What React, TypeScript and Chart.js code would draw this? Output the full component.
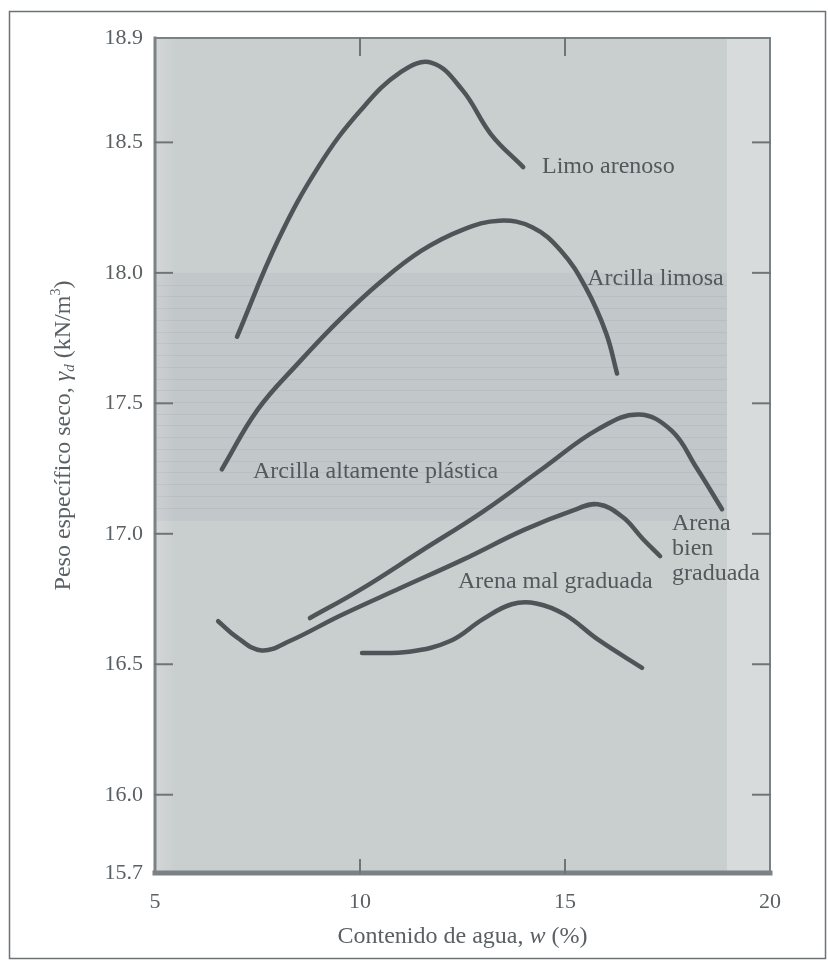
import React, { useEffect, useRef } from "react";
import { Chart, registerables } from "chart.js";

Chart.register(...registerables);

// ---- axis ticks ----
const xTicks = [5, 10, 15, 20];
const yTicks = [15.7, 16.0, 16.5, 17.0, 17.5, 18.0, 18.5, 18.9];
const innerXTicks = [10, 15];
const innerYTicks = [16.0, 16.5, 17.0, 17.5, 18.0, 18.5];

// ---- series (water content %, dry unit weight kN/m3) ----
const limoX = [7.0, 8.0, 9.0, 10.0, 11.0, 11.75, 12.5, 13.2, 13.98];
const limoY = [17.755, 18.125, 18.41, 18.62, 18.77, 18.805, 18.7, 18.53, 18.405];

const arcLimX = [6.63, 7.5, 8.5, 9.5, 10.5, 11.5, 12.5, 13.4, 14.2, 14.9, 15.5, 16.0, 16.27];
const arcLimY = [17.247, 17.475, 17.655, 17.82, 17.965, 18.085, 18.165, 18.2, 18.175, 18.085, 17.945, 17.77, 17.614];

const arcPlastX = [8.78, 10.0, 11.5, 13.0, 14.5, 15.8, 16.8, 17.6, 18.2, 18.83];
const arcPlastY = [16.677, 16.785, 16.935, 17.085, 17.255, 17.4, 17.457, 17.395, 17.255, 17.094];

const arenaBienX = [6.54, 7.0, 7.6, 8.3, 9.5, 11.0, 12.5, 14.0, 15.2, 15.8, 16.4, 16.9, 17.32];
const arenaBienY = [16.665, 16.603, 16.553, 16.59, 16.685, 16.793, 16.9, 17.015, 17.09, 17.113, 17.065, 16.98, 16.914];

const arenaMalX = [10.05, 11.2, 12.2, 13.0, 13.7, 14.3, 15.0, 15.8, 16.88];
const arenaMalY = [16.543, 16.548, 16.589, 16.673, 16.73, 16.733, 16.69, 16.595, 16.486];

const seriesNames = [
  "Limo arenoso",
  "Arcilla limosa",
  "Arcilla altamente plástica",
  "Arena bien graduada",
  "Arena mal graduada",
];

const FONT = "'Liberation Serif', 'DejaVu Serif', serif";
const TEXT = "#5a6063";
const CURVE = "#4e5457";

// annotation anchors (data units) for curve labels
const curveLabels: { lines: string[]; x: number; y: number }[] = [
  { lines: ["Limo arenoso"], x: 14.44, y: 18.405 },
  { lines: ["Arcilla limosa"], x: 15.54, y: 17.977 },
  { lines: ["Arcilla altamente plástica"], x: 7.39, y: 17.239 },
  { lines: ["Arena mal graduada"], x: 12.39, y: 16.818 },
  { lines: ["Arena", "bien", "graduada"], x: 17.61, y: 17.04 },
];

const toPts = (xs: number[], ys: number[]) => xs.map((x, i) => ({ x, y: ys[i] }));

const decor = {
  id: "decor",
  beforeDraw(chart: any) {
    const { ctx, chartArea: a, scales } = chart;
    const xs = scales.x;
    const ys = scales.y;
    ctx.save();
    ctx.fillStyle = "#ffffff";
    ctx.fillRect(0, 0, chart.width, chart.height);
    // outer figure frame
    ctx.strokeStyle = "#6d7275";
    ctx.lineWidth = 1.5;
    ctx.strokeRect(9.5, 11.5, chart.width - 12, chart.height - 14);
    // plot background
    ctx.fillStyle = "#c9cecf";
    ctx.fillRect(a.left, a.top, a.width, a.height);
    const leftStrip = xs.getPixelForValue(5.5);
    const g = ctx.createLinearGradient(a.left, 0, leftStrip, 0);
    g.addColorStop(0, "rgba(255,255,255,0.18)");
    g.addColorStop(1, "rgba(255,255,255,0)");
    ctx.fillStyle = g;
    ctx.fillRect(a.left, a.top, leftStrip - a.left, a.height);
    const rightStrip = xs.getPixelForValue(18.95);
    ctx.fillStyle = "#d7dbdc";
    ctx.fillRect(rightStrip, a.top, a.right - rightStrip, a.height);
    // darker scanned band
    const b1 = ys.getPixelForValue(18.0);
    const b2 = ys.getPixelForValue(17.05);
    ctx.fillStyle = "rgba(110,120,125,0.07)";
    ctx.fillRect(a.left, b1, rightStrip - a.left, b2 - b1);
    ctx.strokeStyle = "rgba(110,120,125,0.10)";
    ctx.lineWidth = 1;
    for (let v = 17.1; v < 18.0; v += 0.045) {
      const py = Math.round(ys.getPixelForValue(v)) + 0.5;
      ctx.beginPath();
      ctx.moveTo(a.left, py);
      ctx.lineTo(rightStrip, py);
      ctx.stroke();
    }
    ctx.restore();
  },
  afterDatasetsDraw(chart: any) {
    const { ctx, scales } = chart;
    const xs = scales.x;
    const ys = scales.y;
    ctx.save();
    ctx.fillStyle = "#52585b";
    ctx.font = `24px ${FONT}`;
    ctx.textAlign = "left";
    ctx.textBaseline = "middle";
    curveLabels.forEach((l) => {
      const px = xs.getPixelForValue(l.x);
      const py = ys.getPixelForValue(l.y);
      l.lines.forEach((t, i) => ctx.fillText(t, px, py + i * 25));
    });
    ctx.restore();
  },
  afterDraw(chart: any) {
    const { ctx, chartArea: a, scales } = chart;
    const xs = scales.x;
    const ys = scales.y;
    ctx.save();
    // plot frame
    ctx.strokeStyle = "#7b8184";
    ctx.lineCap = "square";
    const line = (x1: number, y1: number, x2: number, y2: number, w: number) => {
      ctx.lineWidth = w;
      ctx.beginPath();
      ctx.moveTo(x1, y1);
      ctx.lineTo(x2, y2);
      ctx.stroke();
    };
    line(a.left, a.top, a.right, a.top, 2);
    line(a.right, a.top, a.right, a.bottom, 2);
    line(a.left, a.top, a.left, a.bottom, 3);
    line(a.left, a.bottom, a.right, a.bottom, 5);
    // inward ticks
    ctx.strokeStyle = "#6e7477";
    innerYTicks.forEach((v) => {
      const py = ys.getPixelForValue(v);
      line(a.left, py, a.left + 17, py, 2);
      line(a.right - 17, py, a.right, py, 2);
    });
    innerXTicks.forEach((v) => {
      const px = xs.getPixelForValue(v);
      line(px, a.bottom, px, a.bottom - 13, 2);
      line(px, a.top, px, a.top + 17, 2);
    });

    // x title
    ctx.fillStyle = TEXT;
    ctx.textBaseline = "middle";
    const xParts = [
      { t: "Contenido de agua, ", f: `24px ${FONT}` },
      { t: "w", f: `italic 24px ${FONT}` },
      { t: " (%)", f: `24px ${FONT}` },
    ];
    let total = 0;
    xParts.forEach((p) => {
      ctx.font = p.f;
      total += ctx.measureText(p.t).width;
    });
    let cx = (a.left + a.right) / 2 - total / 2;
    const ty = 937;
    ctx.textAlign = "left";
    xParts.forEach((p) => {
      ctx.font = p.f;
      ctx.fillText(p.t, cx, ty);
      cx += ctx.measureText(p.t).width;
    });

    // y title (rotated)
    const yParts = [
      { t: "Peso específico seco, ", f: `24px ${FONT}`, dy: 0 },
      { t: "γ", f: `italic 24px ${FONT}`, dy: 0 },
      { t: "d", f: `italic 15px ${FONT}`, dy: 6 },
      { t: " (kN/m", f: `24px ${FONT}`, dy: 0 },
      { t: "3", f: `14px ${FONT}`, dy: -8 },
      { t: ")", f: `24px ${FONT}`, dy: 0 },
    ];
    total = 0;
    yParts.forEach((p) => {
      ctx.font = p.f;
      total += ctx.measureText(p.t).width;
    });
    ctx.translate(64, (a.top + a.bottom) / 2 - 20);
    ctx.rotate(-Math.PI / 2);
    let lx = -total / 2;
    yParts.forEach((p) => {
      ctx.font = p.f;
      ctx.fillText(p.t, lx, p.dy);
      lx += ctx.measureText(p.t).width;
    });
    ctx.restore();
  },
};

export default function App() {
  const ref = useRef<HTMLCanvasElement | null>(null);
  useEffect(() => {
    if (!ref.current) return;
    const mk = (label: string, xs: number[], ys: number[]) => ({
      label,
      data: toPts(xs, ys),
      borderColor: CURVE,
      backgroundColor: CURVE,
      borderWidth: 4.5,
      borderCapStyle: "round" as const,
      borderJoinStyle: "round" as const,
      pointRadius: 0,
      tension: 0.4,
      fill: false,
    });
    const chart = new Chart(ref.current, {
      type: "line",
      data: {
        datasets: [
          mk(seriesNames[0], limoX, limoY),
          mk(seriesNames[1], arcLimX, arcLimY),
          mk(seriesNames[2], arcPlastX, arcPlastY),
          mk(seriesNames[3], arenaBienX, arenaBienY),
          mk(seriesNames[4], arenaMalX, arenaMalY),
        ],
      },
      options: {
        responsive: false,
        animation: false,
        events: [],
        layout: { padding: { left: 0, top: 38, right: 58, bottom: 0 } },
        plugins: { legend: { display: false }, tooltip: { enabled: false } },
        scales: {
          x: {
            type: "linear",
            min: 5,
            max: 20,
            afterBuildTicks: (s: any) => {
              s.ticks = xTicks.map((v) => ({ value: v }));
            },
            afterFit: (s: any) => {
              s.height = 88;
            },
            grid: { display: false, drawTicks: false },
            border: { display: false },
            ticks: {
              padding: 16,
              autoSkip: false,
              maxRotation: 0,
              color: TEXT,
              font: { family: FONT, size: 22 },
              callback: (v: any) => String(v),
            },
          },
          y: {
            type: "linear",
            min: 15.7,
            max: 18.9,
            afterBuildTicks: (s: any) => {
              s.ticks = yTicks.map((v) => ({ value: v }));
            },
            afterFit: (s: any) => {
              s.width = 155;
            },
            grid: { display: false, drawTicks: false },
            border: { display: false },
            ticks: {
              padding: 12,
              autoSkip: false,
              color: TEXT,
              font: { family: FONT, size: 22 },
              callback: (v: any) => Number(v).toFixed(1),
            },
          },
        },
      },
      plugins: [decor],
    });
    return () => chart.destroy();
  }, []);
  return (
    <div style={{ position: "fixed", left: 0, top: 0, width: 828, height: 961, background: "#fff" }}>
      <canvas ref={ref} width={828} height={961} style={{ display: "block" }} />
    </div>
  );
}
